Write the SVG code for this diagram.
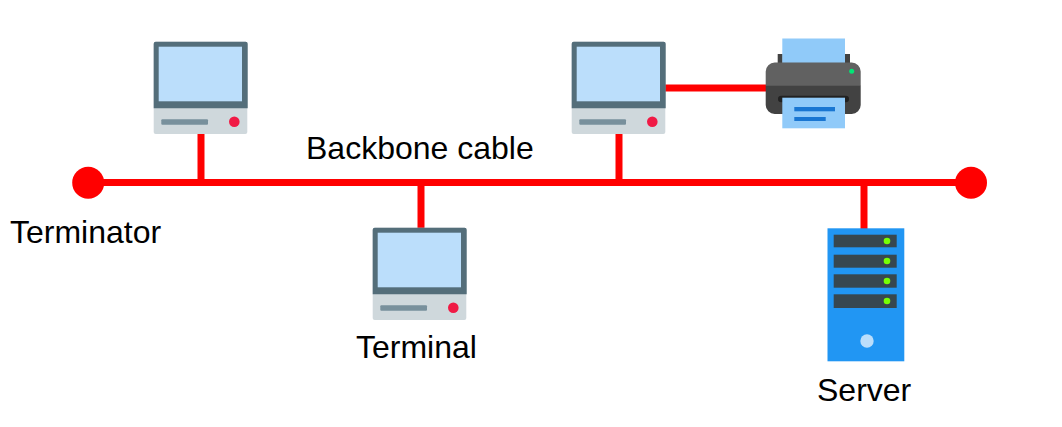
<svg xmlns="http://www.w3.org/2000/svg" width="1062" height="427" viewBox="0 0 1062 427">
<style>
text{font-family:"Liberation Sans",Arial,sans-serif;font-size:32px;fill:#000}
.w{stroke:#ff0000;stroke-width:7;fill:none}
.t{fill:#ff0000}
</style>
<defs>
<g id="pc">
<rect x="-.3" y=".7" width="93.600" height="92.300" rx="2" fill="#cfd8dc"/>
<path d="M-.3 2.700a2 2 0 0 1 2-2h90a2 2 0 0 1 2 2V67.300H-.3z" fill="#546e7a"/>
<rect x="4.700" y="5.700" width="83.300" height="54.600" fill="#bbdefb"/>
<rect x="7.300" y="78.300" width="46.700" height="5.400" rx="1" fill="#78909c"/>
<circle cx="80.300" cy="80.700" r="5.300" fill="#f01a45"/>
</g>
</defs>
<rect width="1062" height="427" fill="#fff"/>
<g id="connectors">
<path class="w" d="M88 182.500H972"/>
<path class="w" d="M201 134V182.500"/>
<path class="w" d="M421 182.500V228"/>
<path class="w" d="M619 134V182.500"/>
<path class="w" d="M864 182.500V229"/>
<path class="w" d="M665 88H767"/>
</g>
<g id="terminator-left"><circle class="t" cx="88.200" cy="182.700" r="16"/></g>
<g id="terminator-right"><circle class="t" cx="971" cy="182.700" r="16"/></g>
<g id="computer-1"><use href="#pc" x="154" y="41"/></g>
<g id="computer-2"><use href="#pc" x="572" y="41"/></g>
<g id="terminal"><use href="#pc" x="373" y="227"/><text x="356" y="358">Terminal</text></g>
<g id="printer">
<rect x="777.700" y="54" width="5" height="10" fill="#424242"/>
<rect x="845" y="54" width="5" height="10" fill="#424242"/>
<rect x="782.300" y="38.500" width="62.700" height="30" fill="#90caf9"/>
<path d="M765.700 86V71.500a9 9 0 0 1 9-9h77a9 9 0 0 1 9 9V86z" fill="#616161"/>
<path d="M765.700 85.700H860.700V105a9 9 0 0 1-9 9H774.700a9 9 0 0 1-9-9z" fill="#424242"/>
<rect x="778" y="95.700" width="71" height="6.600" rx="3.300" fill="#212121"/>
<rect x="782.300" y="97.700" width="62.700" height="30.600" fill="#90caf9"/>
<rect x="794.300" y="107" width="40.700" height="4.300" fill="#1976d2"/>
<rect x="794.300" y="117" width="31.400" height="4" fill="#1976d2"/>
<circle cx="851.700" cy="71.300" r="2.500" fill="#00e676"/>
</g>
<g id="server">
<rect x="827.500" y="228.300" width="76.800" height="133" fill="#2196f3"/>
<rect x="833.700" y="234.700" width="63" height="12.600" fill="#37474f"/>
<rect x="833.700" y="254.700" width="63" height="13" fill="#37474f"/>
<rect x="833.700" y="274.300" width="63" height="13.400" fill="#37474f"/>
<rect x="833.700" y="294.300" width="63" height="13.700" fill="#37474f"/>
<circle cx="887" cy="241" r="3.300" fill="#76ff03"/>
<circle cx="887" cy="261" r="3.300" fill="#76ff03"/>
<circle cx="887" cy="281" r="3.300" fill="#76ff03"/>
<circle cx="887" cy="301" r="3.300" fill="#76ff03"/>
<circle cx="867" cy="341" r="6.700" fill="#bbdefb"/>
<text x="817" y="401">Server</text>
</g>
<text x="306" y="158.500">Backbone cable</text>
<text x="10" y="243">Terminator</text>
</svg>
